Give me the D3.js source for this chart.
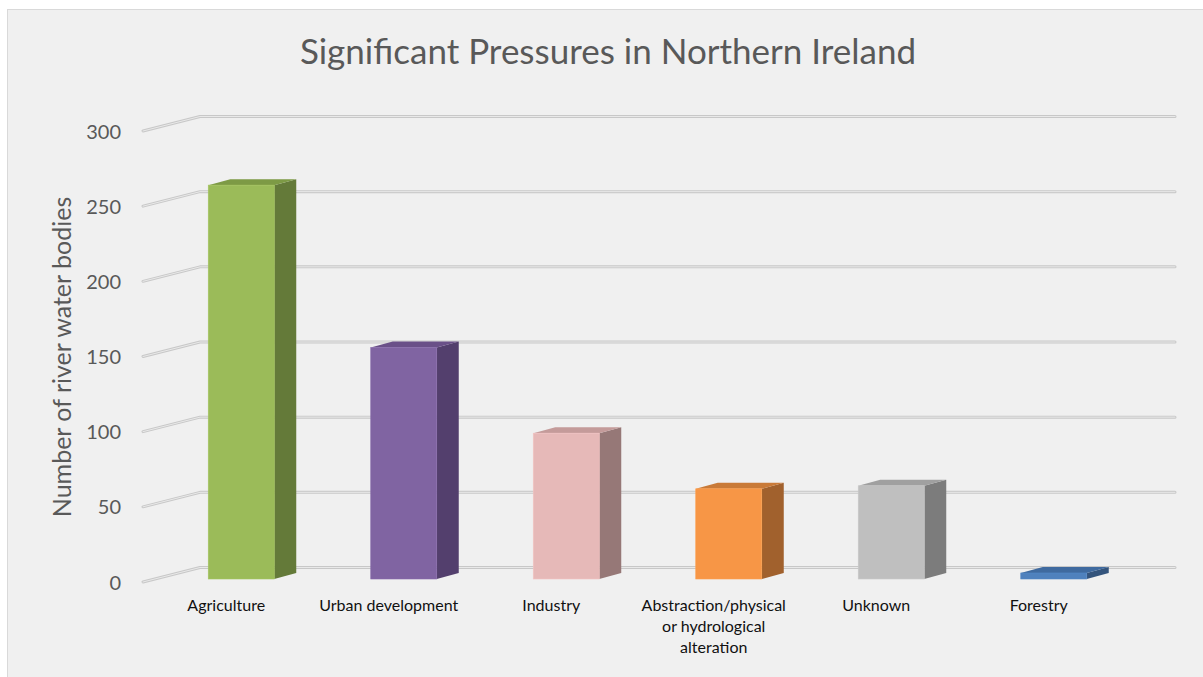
<!DOCTYPE html>
<html>
<head>
<meta charset="utf-8">
<script src="https://cdn.jsdelivr.net/npm/d3@7"></script>
<style>
  html, body { margin: 0; padding: 0; background: #ffffff; }
  svg { display: block; }
  text { font-family: "Lato", "Carlito", "Liberation Sans", sans-serif; }
</style>
</head>
<body>
<svg id="chart" width="1203" height="677"></svg>
<script>
// Chart data
const categories = ["Agriculture", "Urban development", "Industry",
  "Abstraction/physical or hydrological alteration", "Unknown", "Forestry"];
const categoryLabelLines = [["Agriculture"], ["Urban development"], ["Industry"],
  ["Abstraction/physical", "or hydrological", "alteration"], ["Unknown"], ["Forestry"]];
const values = [262, 154, 97, 60, 62, 4];
const tickValues = [0, 50, 100, 150, 200, 250, 300];
const titleText = "Significant Pressures in Northern Ireland";
const yAxisTitle = "Number of river water bodies";

// Face colours per bar: front, side, top
const frontColors = ["#9BBB59", "#8064A2", "#E6B9B8", "#F79646", "#BFBFBF", "#4F81BD"];
const sideColors  = ["#647A39", "#533F6D", "#967877", "#A1612D", "#7C7C7C", "#34547C"];
const topColors   = ["#7D9A45", "#6A5088", "#C49B9A", "#C97A38", "#A0A0A0", "#3F6A9F"];

const svg = d3.select("#chart");

// Chart area panel
svg.append("rect")
  .attr("x", 7.5).attr("y", 9.5)
  .attr("width", 1220).attr("height", 700)
  .attr("fill", "#F0F0F0")
  .attr("stroke", "#D9D9D9").attr("stroke-width", 1);

// 3D projection: depth offset of the back wall
const depthDX = 57, depthDY = 14.5;
const plotLeft = 143, plotRightBack = 1175;

const x = d3.scaleBand().domain(categories).range([plotLeft, plotRightBack - depthDX]);
const y = d3.scaleLinear().domain([0, 300]).range([582, 131]);

// Gridlines: front-left diagonal to the back wall, then along the wall
const gridG = svg.append("g");
tickValues.forEach(v => {
  const p = d3.path();
  p.moveTo(plotLeft, y(v));
  p.lineTo(plotLeft + depthDX, y(v) - depthDY);
  p.lineTo(plotRightBack, y(v) - depthDY);
  const d = p.toString();
  gridG.append("path").attr("d", d).attr("fill", "none")
    .attr("stroke", "#C8C8C8").attr("stroke-width", 3)
    .attr("stroke-linejoin", "round").attr("stroke-linecap", "round");
  gridG.append("path").attr("d", d).attr("fill", "none")
    .attr("stroke", "#E9E9E9").attr("stroke-width", 1)
    .attr("stroke-linejoin", "round").attr("stroke-linecap", "round");
});

// Bars (front face, side face, top face)
const faceInset = 16;     // front face left edge relative to band centre
const faceWidth = 66;
const frontShiftY = 3;    // front face sits slightly behind the floor's front edge
const barDX = 22, barDY = 6;

const barsG = svg.append("g");
categories.forEach((c, i) => {
  const cx = x(c) + x.bandwidth() / 2;
  const x0 = cx - faceInset, x1 = x0 + faceWidth;
  const yb = y(0) - frontShiftY;
  const yt = y(values[i]) - frontShiftY;
  const g = barsG.append("g");
  // side
  g.append("polygon")
    .attr("points", [[x1, yt], [x1 + barDX, yt - barDY], [x1 + barDX, yb - barDY], [x1, yb]].join(" "))
    .attr("fill", sideColors[i]);
  // top
  g.append("polygon")
    .attr("points", [[x0, yt], [x1, yt], [x1 + barDX, yt - barDY], [x0 + barDX, yt - barDY]].join(" "))
    .attr("fill", topColors[i]);
  // front
  g.append("rect")
    .attr("x", x0).attr("y", yt)
    .attr("width", faceWidth).attr("height", yb - yt)
    .attr("fill", frontColors[i])
    .attr("stroke", d3.color(frontColors[i]).brighter(0.15)).attr("stroke-width", 0.6);
});

// Value axis labels
const yAxis = d3.axisLeft(y).tickValues(tickValues).tickSize(0).tickPadding(0);
const yAxisG = svg.append("g").attr("transform", "translate(121,0)").call(yAxis);
yAxisG.select(".domain").remove();
yAxisG.selectAll("text")
  .attr("fill", "#595959")
  .style("font-family", "Lato, sans-serif")
  .style("font-size", "20px")
  .attr("dy", "0.35em");

// Category labels
const catG = svg.append("g");
categories.forEach((c, i) => {
  const cx = x(c) + x.bandwidth() / 2 + 2;
  const t = catG.append("text")
    .attr("x", cx).attr("y", 611)
    .attr("text-anchor", "middle")
    .attr("fill", "#111111")
    .style("font-size", "16px");
  categoryLabelLines[i].forEach((line, j) => {
    t.append("tspan").attr("x", cx).attr("dy", j === 0 ? 0 : 21).text(line);
  });
});

// Axis title
svg.append("text")
  .attr("transform", "translate(71,357) rotate(-90)")
  .attr("text-anchor", "middle")
  .attr("fill", "#595959")
  .style("font-size", "25px")
  .text(yAxisTitle);

// Chart title
svg.append("text")
  .attr("x", 608).attr("y", 64)
  .attr("text-anchor", "middle")
  .attr("fill", "#595959")
  .style("font-size", "35px")
  .text(titleText);
</script>
</body>
</html>
